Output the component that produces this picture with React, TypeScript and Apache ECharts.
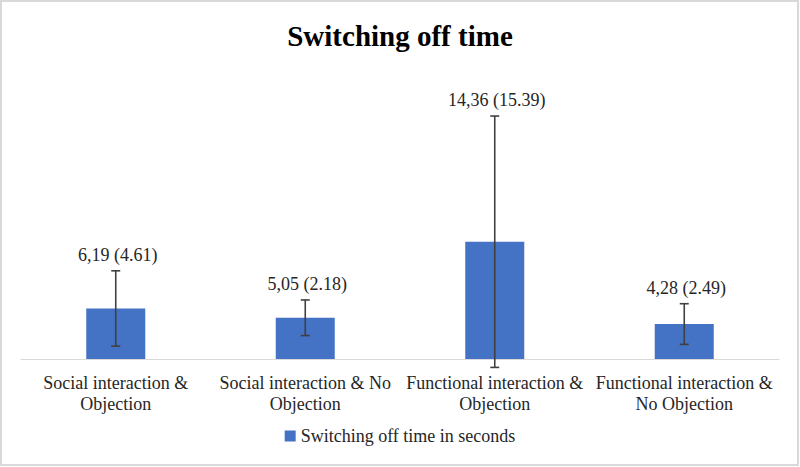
import React, { useEffect, useRef } from "react";
import * as echarts from "echarts";

const categories = [
  "Social interaction &\nObjection",
  "Social interaction & No\nObjection",
  "Functional interaction &\nObjection",
  "Functional interaction &\nNo Objection",
];
const means = [6.19, 5.05, 14.36, 4.28];
const sds = [4.61, 2.18, 15.39, 2.49];
const labels = ["6,19 (4.61)", "5,05 (2.18)", "14,36 (15.39)", "4,28 (2.49)"];
const seriesName = "Switching off time in seconds";
const titleText = "Switching off time";

const FONT = "'Liberation Serif', 'Times New Roman', serif";

export default function App() {
  const ref = useRef<HTMLDivElement>(null);
  useEffect(() => {
    if (!ref.current) return;
    const chart = echarts.init(ref.current, null, { renderer: "svg" });
    chart.setOption({
      animation: false,
      backgroundColor: "#ffffff",
      title: {
        text: titleText,
        left: "center",
        top: 16,
        textStyle: { fontFamily: FONT, fontSize: 29, fontWeight: "bold", color: "#000000" },
      },
      graphic: [
        {
          type: "rect",
          shape: { x: 1, y: 1, width: 797, height: 464 },
          style: { fill: "none", stroke: "#d9d9d9", lineWidth: 2 },
          silent: true,
        },
      ],
      legend: {
        data: [seriesName],
        bottom: 17,
        left: "center",
        icon: "rect",
        itemWidth: 11,
        itemHeight: 11,
        itemGap: 4,
        textStyle: { fontFamily: FONT, fontSize: 18, color: "#262626" },
      },
      grid: { left: 21, right: 21, top: 114, bottom: 108, containLabel: false },
      xAxis: {
        type: "category",
        data: categories,
        axisLine: { lineStyle: { color: "#d9d9d9", width: 1 } },
        axisTick: { show: false },
        axisLabel: {
          interval: 0,
          margin: 13,
          fontFamily: FONT,
          fontSize: 18,
          lineHeight: 21,
          color: "#262626",
          hideOverlap: false,
        },
      },
      yAxis: {
        type: "value",
        min: 0,
        max: 30,
        show: false,
        splitLine: { show: false },
      },
      series: [
        {
          name: seriesName,
          type: "bar",
          data: means,
          barWidth: 59,
          itemStyle: { color: "#4472c4" },
        },
        {
          name: "errors",
          type: "custom",
          clip: false,
          z: 10,
          data: means.map((m, i) => [i, m, sds[i]]),
          encode: { x: 0, y: 1 },
          renderItem: (params: any, api: any) => {
            const i = api.value(0);
            const m = api.value(1);
            const s = api.value(2);
            const top = api.coord([i, m + s]);
            const bot = api.coord([i, m - s]);
            const x = top[0];
            const cap = 4.5;
            const stroke = { stroke: "#404040", lineWidth: 1.6 };
            return {
              type: "group",
              children: [
                { type: "line", shape: { x1: x, y1: top[1], x2: x, y2: bot[1] }, style: stroke },
                { type: "line", shape: { x1: x - cap, y1: top[1], x2: x + cap, y2: top[1] }, style: stroke },
                { type: "line", shape: { x1: x - cap, y1: bot[1], x2: x + cap, y2: bot[1] }, style: stroke },
                {
                  type: "text",
                  style: {
                    text: labels[params.dataIndex],
                    x: x + 2,
                    y: top[1] - 7,
                    align: "center",
                    verticalAlign: "bottom",
                    fontFamily: FONT,
                    fontSize: 18,
                    fill: "#262626",
                  },
                },
              ],
            };
          },
        },
      ],
    });
    return () => chart.dispose();
  }, []);
  return (
    <div
      ref={ref}
      style={{ position: "fixed", left: 0, top: 0, width: 800, height: 467 }}
    />
  );
}
